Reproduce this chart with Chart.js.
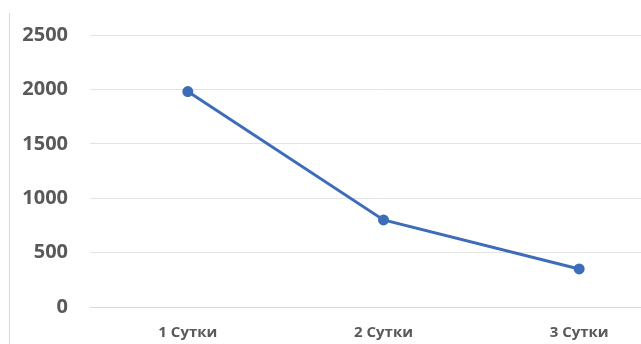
<!DOCTYPE html>
<html lang="ru">
<head>
    <meta charset="UTF-8">
    <title>Сутки</title>
    <style>
        body {
            margin: 0;
            background: #fff;
            overflow: hidden;
        }
        .frame {
            position: absolute;
            left: 9px;
            top: 13px;
            height: 340px;
            border-left: 1px solid #d9d9d9;
        }
        .chart-box {
            position: absolute;
            left: 0;
            top: 0;
            width: 684px;
            height: 344px;
        }
    </style>
</head>
<body>
    <div class="frame"></div>
    <div class="chart-box">
        <canvas id="chart"></canvas>
    </div>

    <script src="https://cdn.jsdelivr.net/npm/chart.js"></script>
    <script>
        const days = ['1 Сутки', '2 Сутки', '3 Сутки'];
        const values = [1980, 800, 350];
        const yTicks = [0, 500, 1000, 1500, 2000, 2500];

        const ctx = document.getElementById('chart').getContext('2d');
        new Chart(ctx, {
            type: 'line',
            data: {
                labels: days,
                datasets: [{
                    data: values,
                    borderColor: '#3d6cb9',
                    backgroundColor: '#3d6cb9',
                    borderWidth: 3,
                    pointRadius: 4,
                    pointHoverRadius: 4,
                    tension: 0
                }]
            },
            options: {
                responsive: true,
                maintainAspectRatio: false,
                animation: false,
                layout: { padding: { top: 35, right: 0, bottom: 0, left: 0 } },
                plugins: {
                    legend: { display: false },
                    tooltip: { enabled: false }
                },
                scales: {
                    x: {
                        offset: true,
                        grid: { display: false, drawTicks: false },
                        border: { display: true, color: '#d9d9d9', width: 1 },
                        ticks: {
                            padding: 17,
                            color: '#595959',
                            font: { family: 'Open Sans', size: 15, weight: 'bold' }
                        },
                        afterFit: s => { s.height = 37; }
                    },
                    y: {
                        min: yTicks[0],
                        max: yTicks[yTicks.length - 1],
                        afterBuildTicks: s => { s.ticks = yTicks.map(v => ({ value: v })); },
                        grid: { color: '#e3e3e3', drawTicks: false },
                        border: { display: false },
                        ticks: {
                            padding: 22,
                            color: '#595959',
                            font: { family: 'Open Sans', size: 20, weight: 'bold' },
                            callback: v => String(v)
                        },
                        afterFit: s => { s.width = 90; }
                    }
                }
            }
        });
    </script>
</body>
</html>
